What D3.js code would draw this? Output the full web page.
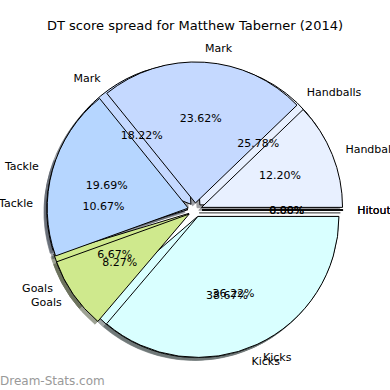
<!DOCTYPE html>
<html>
<head>
<meta charset="utf-8">
<script src="https://cdn.jsdelivr.net/npm/d3@7"></script>
<style>
  body { margin: 0; background: #fff; }
  text { font-family: "DejaVu Sans", sans-serif; fill: #000; }
</style>
</head>
<body>
<div id="chart"></div>
<script>
const width = 390;
const height = 390;

// two seasons' splits overlaid, second one ends up on top
const categories = ["Hitout", "Handballs", "Mark", "Tackle", "Goals", "Kicks"];
const pctBack = [0, 25.78, 18.22, 10.67, 6.67, 38.67];
const pctFront = [0, 12.20, 23.62, 19.69, 8.27, 36.22];
const colors = ["#f0f0f0", "#e8f0ff", "#c5d9ff", "#b6d6ff", "#cfe98d", "#d9ffff"];

const cx = 195, cy = 210;
const r = 141;
const explode = 0.05 * r;

const svg = d3.select("#chart")
  .append("svg")
  .attr("width", width)
  .attr("height", height);

svg.append("rect")
  .attr("width", width)
  .attr("height", height)
  .attr("fill", "#fff");

svg.append("text")
  .attr("x", width / 2)
  .attr("y", 30)
  .attr("text-anchor", "middle")
  .style("font-size", "13px")
  .text("DT score spread for Matthew Taberner (2014)");

// start at 3 o'clock and go counter-clockwise, like matplotlib
const pie = d3.pie()
  .sort(null)
  .startAngle(Math.PI / 2)
  .endAngle(Math.PI / 2 - 2 * Math.PI);

const arc = d3.arc()
  .innerRadius(0)
  .outerRadius(r);

function layout(values) {
  return pie(values).map((d, i) => {
    const a = (d.startAngle + d.endAngle) / 2;
    return {
      ...d,
      name: categories[i],
      color: colors[i],
      ux: Math.sin(a),
      uy: -Math.cos(a),
      pct: values[i] / d3.sum(values) * 100
    };
  });
}

const pies = [layout(pctBack), layout(pctFront)];

const g = svg.append("g")
  .attr("transform", `translate(${cx},${cy})`);

function darker(c) {
  const k = d3.rgb(c);
  return d3.rgb(k.r * 0.3, k.g * 0.3, k.b * 0.3).toString();
}

// shadows first
pies.forEach(arcs => {
  g.append("g")
    .selectAll("path")
    .data(arcs)
    .enter()
    .append("path")
    .attr("d", arc)
    .attr("transform", d => `translate(${d.ux * explode - 2.8},${d.uy * explode + 2.8})`)
    .attr("fill", d => darker(d.color))
    .attr("stroke", d => darker(d.color))
    .attr("stroke-width", 1)
    .attr("opacity", 0.5);
});

pies.forEach(arcs => {
  g.append("g")
    .selectAll("path")
    .data(arcs)
    .enter()
    .append("path")
    .attr("d", arc)
    .attr("transform", d => `translate(${d.ux * explode},${d.uy * explode})`)
    .attr("fill", d => d.color)
    .attr("stroke", "#000")
    .attr("stroke-width", 1)
    .attr("stroke-linejoin", "round");
});

pies.forEach(arcs => {
  const t = g.append("g");

  t.selectAll("text.lbl")
    .data(arcs)
    .enter()
    .append("text")
    .attr("class", "lbl")
    .attr("x", d => d.ux * (explode + 1.1 * r))
    .attr("y", d => d.uy * (explode + 1.1 * r))
    .attr("text-anchor", d => d.ux > 0 ? "start" : "end")
    .attr("dominant-baseline", "central")
    .style("font-size", "11px")
    .text(d => d.name);

  t.selectAll("text.pct")
    .data(arcs)
    .enter()
    .append("text")
    .attr("class", "pct")
    .attr("x", d => d.ux * (explode + 0.6 * r))
    .attr("y", d => d.uy * (explode + 0.6 * r))
    .attr("text-anchor", "middle")
    .attr("dominant-baseline", "central")
    .style("font-size", "11px")
    .text(d => d.pct.toFixed(2) + "%");
});

svg.append("text")
  .attr("x", 0)
  .attr("y", 385)
  .style("font-size", "12px")
  .style("fill", "#999")
  .text("Dream-Stats.com");
</script>
</body>
</html>
